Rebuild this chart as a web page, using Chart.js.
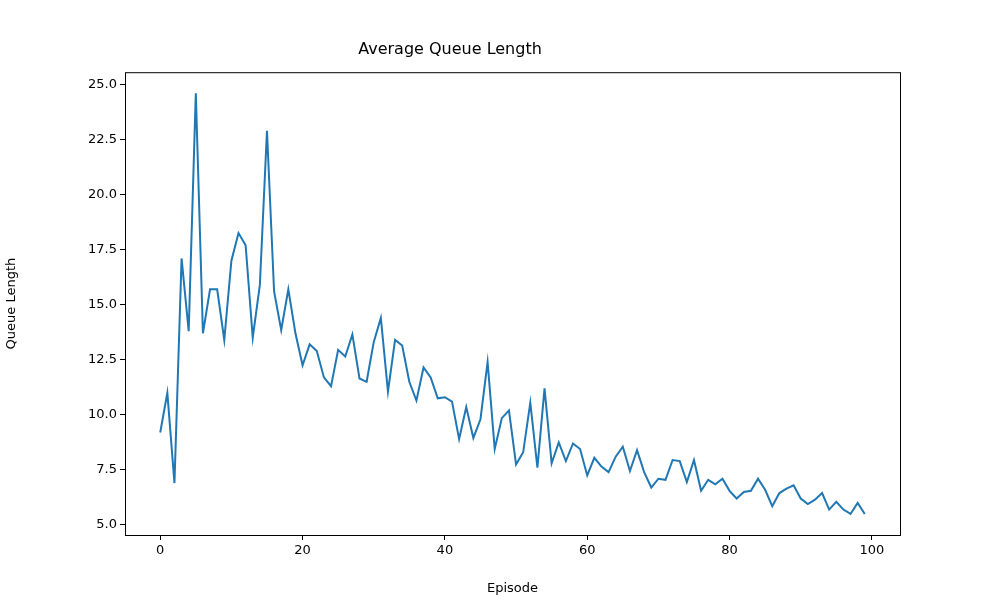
<!DOCTYPE html>
<html>
<head>
<meta charset="utf-8">
<script src="https://cdn.jsdelivr.net/npm/chart.js@4"></script>
<style>
  html, body { margin: 0; padding: 0; background: #fff; }
  #wrap { width: 1000px; height: 600px; }
</style>
</head>
<body>
<div id="wrap"><canvas id="queueChart"></canvas></div>
<script>
const chartTitle = "Average Queue Length";
const xLabel = "Episode";
const yLabel = "Queue Length";
const xTicks = [0, 20, 40, 60, 80, 100];
const yTicks = [5.0, 7.5, 10.0, 12.5, 15.0, 17.5, 20.0, 22.5, 25.0];
const queueLengths = [
  9.2, 11.0, 6.9, 17.1, 13.8, 24.6, 13.7, 15.7, 15.7, 13.4,
  17.0, 18.25, 17.7, 13.5, 15.9, 22.9, 15.6, 13.85, 15.7, 13.7,
  12.25, 13.2, 12.9, 11.7, 11.3, 12.95, 12.65, 13.65, 11.65, 11.5,
  13.3, 14.4, 11.05, 13.4, 13.15, 11.5, 10.65, 12.15, 11.7, 10.75,
  10.8, 10.6, 8.9, 10.35, 8.95, 9.8, 12.4, 8.45, 9.85, 10.2,
  7.75, 8.3, 10.55, 7.6, 11.2, 7.8, 8.75, 7.9, 8.7, 8.45,
  7.25, 8.05, 7.65, 7.4, 8.1, 8.55, 7.45, 8.4, 7.4, 6.7,
  7.1, 7.05, 7.95, 7.9, 6.95, 7.95, 6.55, 7.05, 6.85, 7.1,
  6.55, 6.2, 6.5, 6.55, 7.1, 6.6, 5.85, 6.45, 6.65, 6.8,
  6.2, 5.95, 6.15, 6.45, 5.7, 6.05, 5.7, 5.5, 6.0, 5.5
];

const points = queueLengths.map((v, i) => ({ x: i, y: v }));

// box around the plot area, like matplotlib spines
const frame = {
  id: "frame",
  afterDraw(chart) {
    const a = chart.chartArea;
    const ctx = chart.ctx;
    ctx.save();
    ctx.strokeStyle = "#000";
    ctx.lineWidth = 1;
    ctx.strokeRect(a.left + 0.5, a.top + 0.5, a.right - a.left, a.bottom - a.top);
    ctx.restore();
  }
};

const font = { family: "DejaVu Sans", size: 13 };

new Chart(document.getElementById("queueChart"), {
  type: "line",
  data: {
    datasets: [{
      data: points,
      borderColor: "#1f77b4",
      borderWidth: 2,
      pointRadius: 0,
      tension: 0,
      fill: false
    }]
  },
  options: {
    responsive: true,
    maintainAspectRatio: false,
    animation: false,
    layout: { padding: { left: 0, right: 100, top: 0, bottom: 0 } },
    plugins: {
      legend: { display: false },
      tooltip: { enabled: false },
      title: {
        display: true,
        text: chartTitle,
        color: "#000",
        font: { family: "DejaVu Sans", size: 16, weight: "normal" },
        padding: { top: 40, bottom: 13 }
      }
    },
    scales: {
      x: {
        type: "linear",
        min: -4.95,
        max: 103.95,
        afterBuildTicks: (s) => { s.ticks = xTicks.map((v) => ({ value: v })); },
        afterFit: (s) => { s.height = 65; },
        grid: { display: true, drawOnChartArea: false, tickLength: 5, color: "#000" },
        border: { display: false },
        ticks: { color: "#000", font: font, maxRotation: 0, padding: 3 },
        title: { display: true, text: xLabel, color: "#000", font: font, padding: { top: 2 } }
      },
      y: {
        min: 4.545,
        max: 25.555,
        afterBuildTicks: (s) => { s.ticks = yTicks.map((v) => ({ value: v })); },
        afterFit: (s) => { s.width = 125; },
        grid: { display: true, drawOnChartArea: false, tickLength: 5, color: "#000" },
        border: { display: false },
        ticks: { color: "#000", font: font, padding: 3, callback: (v) => v.toFixed(1) },
        title: { display: true, text: yLabel, color: "#000", font: font, padding: { bottom: 6 } }
      }
    }
  },
  plugins: [frame]
});
</script>
</body>
</html>
